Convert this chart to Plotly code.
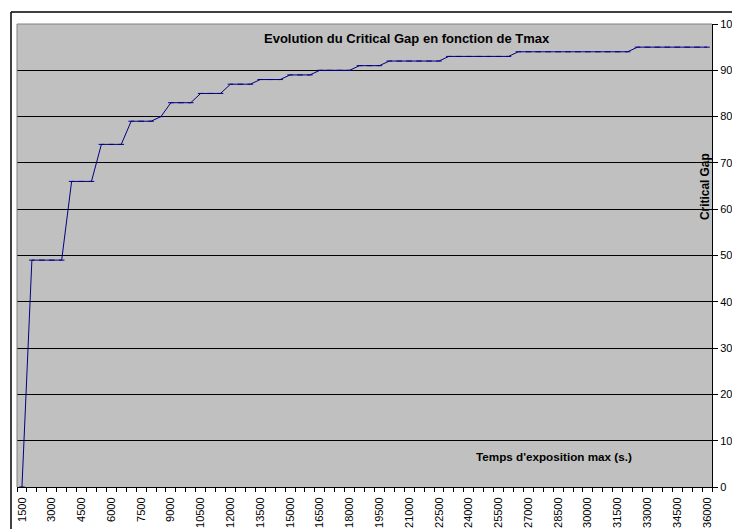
import plotly.graph_objects as go

# Categories: Tmax (s.) from 1500 to 36000 in steps of 500
categories = [str(v) for v in range(1500, 36001, 500)]
critical_gap = (
    [0]
    + [49] * 4
    + [66] * 3
    + [74] * 3
    + [79] * 3
    + [80] * 1
    + [83] * 3
    + [85] * 3
    + [87] * 3
    + [88] * 3
    + [89] * 3
    + [90] * 4
    + [91] * 3
    + [92] * 6
    + [93] * 7
    + [94] * 12
    + [95] * 8
)
y_ticks = list(range(0, 101, 10))

idx = list(range(len(categories)))
label_idx = idx[::3]
label_text = [categories[i] for i in label_idx]

# The page body has an 8px default margin; work in screen pixels.
OFF = 8
W, H = 740 - OFF, 529 - OFF
L, R, T, B = 17, 712, 24, 487  # plot area in screen pixels

fig = go.Figure()
fig.add_trace(go.Scatter(
    x=idx, y=critical_gap, mode="lines+markers",
    line=dict(color="#000080", width=1),
    marker=dict(symbol="line-ew", size=4, line=dict(color="#000080", width=1)),
    hoverinfo="skip", showlegend=False,
))

def px_x(p):
    return (p - L) / (R - L)

def px_y(p):
    return (B - p) / (B - T)

font = "Liberation Sans, Arial, sans-serif"
fig.update_layout(
    width=W, height=H,
    margin=dict(l=L - OFF, r=W - (R - OFF), t=T - OFF, b=H - (B - OFF), pad=0),
    paper_bgcolor="white", plot_bgcolor="#C0C0C0",
    font=dict(family=font, size=11, color="black"),
    xaxis=dict(
        range=[-0.5, len(categories) - 0.5],
        tickmode="array", tickvals=label_idx, ticktext=label_text,
        tickangle=-90, ticks="outside", ticklen=5, tickcolor="rgba(0,0,0,0)",
        showgrid=False, zeroline=False,
        showline=True, linecolor="black", linewidth=1, automargin=False,
        tickfont=dict(family=font, size=11, color="black"),
        minor=dict(tickmode="linear", tick0=-0.5, dtick=1, ticks="outside",
                   ticklen=4, tickcolor="black", tickwidth=1, showgrid=False),
        fixedrange=True,
    ),
    yaxis=dict(
        range=[0, 100], side="right", tickmode="array", tickvals=y_ticks,
        ticks="outside", ticklen=5, tickcolor="black",
        showgrid=True, gridcolor="black", gridwidth=1, zeroline=False,
        showline=True, linecolor="black", linewidth=1, automargin=False,
        tickfont=dict(family=font, size=11, color="black"),
        fixedrange=True,
    ),
    shapes=[
        # plot area gray border (top and left)
        dict(type="line", xref="paper", yref="paper", x0=0, x1=1, y0=1, y1=1,
             line=dict(color="#808080", width=1), layer="above"),
        dict(type="line", xref="paper", yref="paper", x0=0, x1=0, y0=0, y1=1,
             line=dict(color="#808080", width=1), layer="above"),
        # chart area black border (top and left)
        dict(type="line", xref="paper", yref="paper", x0=px_x(11), x1=px_x(745),
             y0=px_y(12), y1=px_y(12), line=dict(color="black", width=1.5)),
        dict(type="line", xref="paper", yref="paper", x0=px_x(11), x1=px_x(11),
             y0=px_y(12), y1=px_y(535), line=dict(color="black", width=1.5)),
    ],
    annotations=[
        dict(text="<b>Evolution du Critical Gap en fonction de Tmax</b>",
             xref="paper", yref="paper", x=px_x(407), y=px_y(39),
             xanchor="center", yanchor="middle", showarrow=False,
             font=dict(family=font, size=13, color="black")),
        dict(text="<b>Temps d'exposition max (s.)</b>",
             xref="paper", yref="paper", x=px_x(554), y=px_y(456),
             xanchor="center", yanchor="middle", showarrow=False,
             font=dict(family=font, size=11.7, color="black")),
        dict(text="<b>Critical Gap</b>",
             xref="paper", yref="paper", x=px_x(705), y=px_y(187),
             xanchor="center", yanchor="middle", showarrow=False, textangle=-90,
             font=dict(family=font, size=11.9, color="black")),
    ],
)

fig.write_html("out.html")
